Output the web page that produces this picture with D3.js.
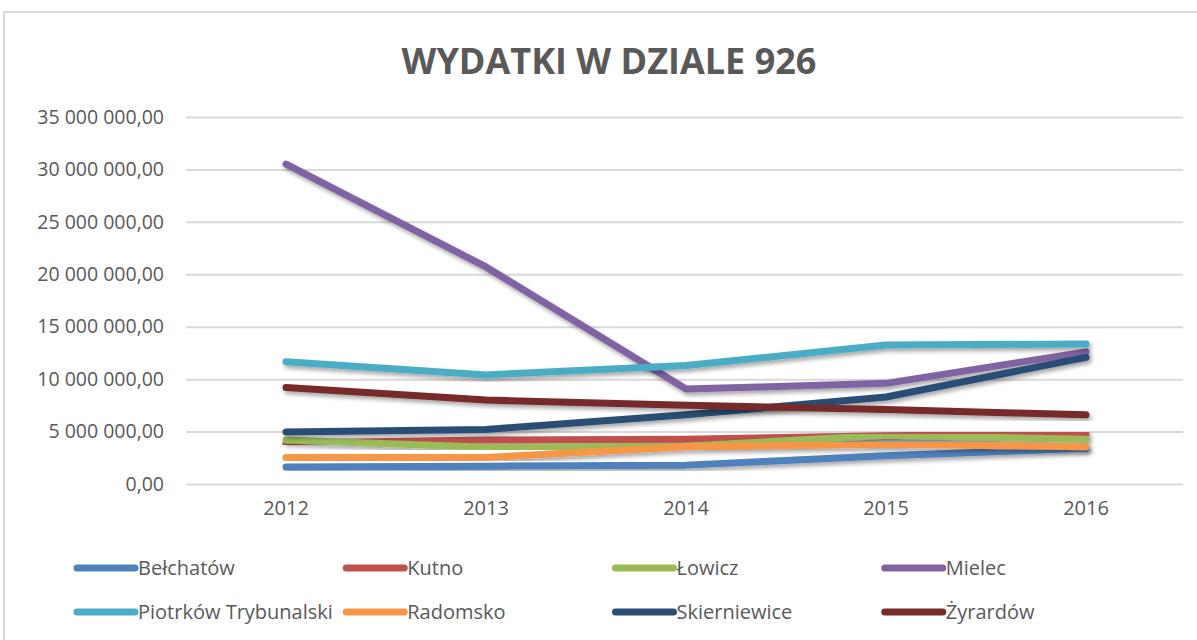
<!DOCTYPE html>
<html>
<head>
<meta charset="utf-8">
<script src="https://cdnjs.cloudflare.com/ajax/libs/d3/7.8.5/d3.min.js"></script>
<style>
  body { margin: 0; background: #fff; }
  text { font-family: "Open Sans", "Liberation Sans", sans-serif; fill: #595959; }
</style>
</head>
<body>
<svg id="chart" width="1197" height="640"></svg>
<script>
// chart data
var years = ["2012", "2013", "2014", "2015", "2016"];
var cities = ["Bełchatów", "Kutno", "Łowicz", "Mielec", "Piotrków Trybunalski", "Radomsko", "Skierniewice", "Żyrardów"];
var colors = ["#4f81bd", "#c0504d", "#9bbb59", "#8064a2", "#4bacc6", "#f79646", "#2c4d75", "#772c2a"];

var belchatow = [1630000, 1700000, 1800000, 2700000, 3400000];
var kutno = [3900000, 4200000, 4270000, 4600000, 4800000];
var lowicz = [4200000, 3500000, 3600000, 4650000, 4270000];
var mielec = [30500000, 20700000, 9050000, 9600000, 12600000];
var piotrkow = [11650000, 10400000, 11300000, 13250000, 13350000];
var radomsko = [2530000, 2530000, 3550000, 3800000, 3550000];
var skierniewice = [4970000, 5200000, 6600000, 8300000, 12070000];
var zyrardow = [9200000, 8000000, 7500000, 7100000, 6600000];

var yTicks = [0, 5000000, 10000000, 15000000, 20000000, 25000000, 30000000, 35000000];
var title = "WYDATKI W DZIALE 926";

var seriesValues = [belchatow, kutno, lowicz, mielec, piotrkow, radomsko, skierniewice, zyrardow];

//=========
var svg = d3.select("#chart");

// polish number format: "35 000 000,00"
var plFormat = d3.formatLocale({ decimal: ",", thousands: " ", grouping: [3], currency: ["", " zł"] }).format(",.2f");

var xScale = d3.scaleBand().domain(years).range([186, 1186]).padding(0);
var yScale = d3.scaleLinear().domain([0, 35000000]).range([484, 117]);

// drop shadow like the excel line effect
var defs = svg.append("defs");
defs.append("filter")
    .attr("id", "shadow")
    .attr("x", "-10%").attr("y", "-10%")
    .attr("width", "120%").attr("height", "130%")
  .append("feDropShadow")
    .attr("dx", 2).attr("dy", 3)
    .attr("stdDeviation", 2)
    .attr("flood-color", "#000")
    .attr("flood-opacity", 0.35);

svg.append("rect")
    .attr("width", 1197).attr("height", 640)
    .attr("fill", "#fff");

// chart area border (runs off the right and bottom of the picture)
svg.append("rect")
    .attr("x", 4).attr("y", 12)
    .attr("width", 1300).attr("height", 700)
    .attr("fill", "none")
    .attr("stroke", "#d9d9d9")
    .attr("stroke-width", 2);

svg.append("text")
    .attr("x", 609).attr("y", 74)
    .attr("text-anchor", "middle")
    .attr("font-size", 36)
    .attr("font-weight", "bold")
    .text(title);

// y gridlines + labels
var yAxis = d3.axisLeft(yScale)
    .tickValues(yTicks)
    .tickFormat(plFormat)
    .tickSize(-(1183 - 186))
    .tickPadding(22);

var yG = svg.append("g")
    .attr("transform", "translate(186,0)")
    .call(yAxis);
yG.select(".domain").remove();
yG.selectAll(".tick line").attr("stroke", "#d9d9d9").attr("stroke-width", 2);
yG.selectAll(".tick text")
    .attr("font-size", 19.5)
    .attr("font-family", null)
    .attr("fill", "#595959");

// x labels
var xAxis = d3.axisBottom(xScale).tickSize(0).tickPadding(17);
var xG = svg.append("g")
    .attr("transform", "translate(0,484)")
    .call(xAxis);
xG.select(".domain").remove();
xG.selectAll(".tick text")
    .attr("font-size", 20)
    .attr("font-family", null)
    .attr("fill", "#595959");

// lines
var line = d3.line()
    .x(function(d, i){ return xScale(years[i]) + xScale.bandwidth() / 2; })
    .y(function(d){ return yScale(d); });

svg.append("g")
    .selectAll("path")
    .data(seriesValues)
    .join("path")
    .attr("d", line)
    .attr("fill", "none")
    .attr("stroke", function(d, i){ return colors[i]; })
    .attr("stroke-width", 7)
    .attr("stroke-linecap", "round")
    .attr("stroke-linejoin", "round")
    .attr("filter", "url(#shadow)");

// legend, 4 columns x 2 rows
var legendX = d3.scaleBand().domain(d3.range(4)).range([77, 1154]);
var legendY = d3.scalePoint().domain([0, 1]).range([568, 612]);

var legend = svg.append("g")
    .selectAll("g")
    .data(cities)
    .join("g")
    .attr("transform", function(d, i){
        return "translate(" + legendX(i % 4) + "," + legendY(Math.floor(i / 4)) + ")";
    });

legend.append("line")
    .attr("x1", 0).attr("x2", 58)
    .attr("stroke", function(d, i){ return colors[i]; })
    .attr("stroke-width", 7)
    .attr("stroke-linecap", "round");

legend.append("text")
    .attr("x", 61)
    .attr("y", 7)
    .attr("font-size", 20)
    .text(function(d){ return d; });
</script>
</body>
</html>
